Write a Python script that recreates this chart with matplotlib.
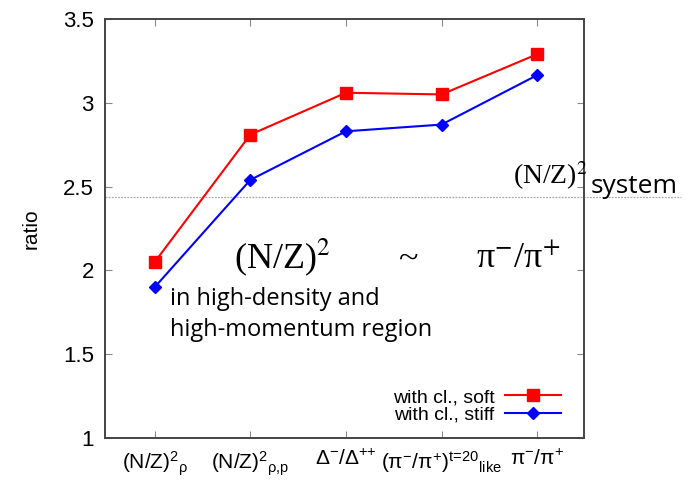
import numpy as np
import matplotlib.pyplot as plt

# categories on the x axis (gnuplot-style labels)
labels = [
    r'(N/Z)$^{2}$$_{ρ}$',
    r'(N/Z)$^{2}$$_{ρ{,}p}$',
    r'Δ$^{-}$/Δ$^{{+}{+}}$',
    r'(π$^{-}$/π$^{+}$)$^{t\!=\!20}$$_{like}$',
    r'π$^{-}$/π$^{+}$',
]
soft = [2.05, 2.81, 3.06, 3.05, 3.29]
stiff = [1.90, 2.54, 2.83, 2.87, 3.165]
nz_system = 2.435

plt.rcParams['font.family'] = ['Liberation Sans', 'DejaVu Sans']
plt.rcParams['mathtext.fontset'] = 'custom'
plt.rcParams['mathtext.rm'] = 'Liberation Sans'
plt.rcParams['mathtext.it'] = 'Liberation Sans'

W, H = 689, 480
fig = plt.figure(figsize=(W / 100, H / 100), dpi=100)
ax = fig.add_axes([105 / W, 1 - 438 / H, (584 - 105) / W, (438 - 19) / H])

x = np.arange(1, len(labels) + 1)
ax.plot(x, soft, color='#ff0000', lw=1.5, marker='s', ms=9,
        label='with cl., soft')
ax.plot(x, stiff, color='#0000ff', lw=1.5, marker='D', ms=6.5,
        label='with cl., stiff')

# (N/Z)^2 of the whole system, running out past the frame
ax.plot([0.48, 6.5], [nz_system, nz_system], color='#aaaaaa', lw=0.9,
        ls=(0, (1.5, 1)), clip_on=False, zorder=1)

ax.set_xlim(0.48, 5.49)
ax.set_ylim(1, 3.5)
ax.set_xticks(x)
ax.set_xticklabels(labels, fontsize=15)
ax.set_yticks(np.arange(1, 3.51, 0.5))
ax.set_yticklabels(['1', '1.5', '2', '2.5', '3', '3.5'], fontsize=16)
ax.tick_params(direction='in', top=True, right=True, length=5,
               width=0.8, color='#888888', pad=8)
for s in ax.spines.values():
    s.set_color('#444444')
    s.set_linewidth(1.4)
ax.set_ylabel('ratio', fontsize=15, labelpad=16)

ax.legend(loc='lower right', bbox_to_anchor=(1, -0.022), frameon=False,
          markerfirst=False, fontsize=14, handlelength=2.85,
          handletextpad=0.55, labelspacing=0.0, borderaxespad=0.8)

def px(xp, yp):
    return xp / W, 1 - yp / H

serif = 'Liberation Serif'
sans = 'Open Sans'
fig.text(*px(513, 184), '(N/Z)$^{2}$', family=serif, fontsize=20,
         math_fontfamily='stix')
fig.text(*px(591, 193), 'system', family=sans, fontsize=19)
fig.text(*px(234, 268), '(N/Z)$^{2}$', family=serif, fontsize=26,
         math_fontfamily='stix')
fig.text(*px(399, 268), '~', family=serif, fontsize=26)
fig.text(*px(476, 268), 'π$^{−}$/π$^{+}$', family=serif, fontsize=26,
         math_fontfamily='stix')
fig.text(*px(170, 305), 'in high-density and', family=sans, fontsize=17)
fig.text(*px(170, 336), 'high-momentum region', family=sans, fontsize=17)

fig.savefig('out.png', dpi=100)
